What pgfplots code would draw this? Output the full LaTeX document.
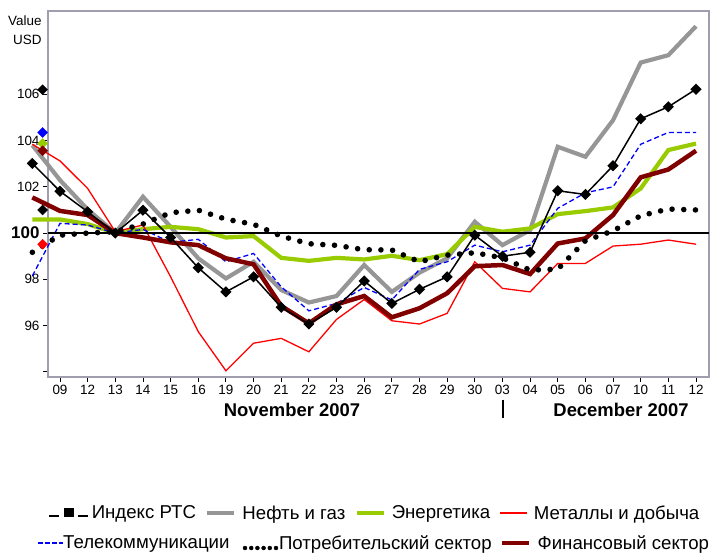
\documentclass[border=0pt]{standalone}
\usepackage{fontspec}
\setmainfont{Liberation Sans}
\usepackage{pgfplots}
\pgfplotsset{compat=1.18}
\definecolor{framegray}{RGB}{158,158,174}
\definecolor{oilgray}{RGB}{150,150,150}
\definecolor{energygreen}{RGB}{153,204,0}
\definecolor{finred}{RGB}{128,0,0}
\definecolor{baseline}{RGB}{32,0,0}
\begin{document}
\begin{tikzpicture}
\useasboundingbox (0,0) rectangle (712bp,553bp);
\begin{axis}[
  at={(48bp,176bp)}, anchor=south west,
  scale only axis, width=661bp, height=366bp,
  xmin=-0.434, xmax=23.47, ymin=93.78, ymax=109.6,
  clip=false,
  axis line style={draw=framegray, line width=1.4bp},
  xtick={0,...,23},
  xticklabels={09,12,13,14,15,16,19,20,21,22,23,26,27,28,29,30,03,04,05,06,07,10,11,12},
  ytick={94,96,98,100,102,104,106},
  yticklabels={,96,98,{\fontsize{17}{17}\selectfont\bfseries 100},102,104,106},
  tick align=outside, tick pos=left, major tick length=5bp,
  tick style={black, line width=0.9bp},
  ticklabel style={font=\fontsize{13.5}{14}\selectfont},
  legend columns=4,
  legend style={at={(0.4937,-0.3716)}, anchor=center, draw=none, fill=none,
     font=\fontsize{18.7}{20}\selectfont,
     nodes={inner sep=0.5bp},
     /tikz/every odd column/.append style={column sep=5.5bp},
     /tikz/every even column/.append style={column sep=9bp}},
]
% Oil & gas
\addplot[forget plot, oilgray, line width=4.2bp] coordinates {
(-1,103.8)(0,102.29)(1,101.02)(2,100.0)(3,101.57)(4,100.27)(5,98.91)(6,98.04)
(7,98.76)(8,97.54)(9,97.0)(10,97.28)(11,98.62)(12,97.46)(13,98.29)(14,98.91)
(15,100.49)(16,99.48)(17,100.13)(18,103.73)(19,103.3)(20,104.88)(21,107.37)(22,107.69)(23,108.94)};
% Energy
\addplot[forget plot, energygreen, line width=4.2bp] coordinates {
(-1,100.59)(0,100.59)(1,100.39)(2,100.01)(3,100.17)(4,100.27)(5,100.17)(6,99.81)
(7,99.87)(8,98.93)(9,98.8)(10,98.93)(11,98.86)(12,99.02)(13,98.83)(14,99.09)
(15,100.27)(16,100.06)(17,100.2)(18,100.82)(19,100.95)(20,101.11)(21,101.93)(22,103.59)(23,103.87)};
% Metals
\addplot[forget plot, red, line width=1.3bp] coordinates {
(-1,103.84)(0,103.12)(1,101.93)(2,100.06)(3,100.35)(4,98.11)(5,95.74)(6,94.05)
(7,95.24)(8,95.45)(9,94.87)(10,96.27)(11,97.13)(12,96.21)(13,96.07)(14,96.53)
(15,98.76)(16,97.61)(17,97.46)(18,98.69)(19,98.69)(20,99.44)(21,99.52)(22,99.7)(23,99.52)};
% Telecom
\addplot[forget plot, blue, line width=1.3bp, dash pattern=on 5bp off 3bp] coordinates {
(-1,98.15)(0,100.42)(1,100.35)(2,100.0)(3,100.16)(4,99.6)(5,99.73)(6,98.76)
(7,99.12)(8,97.68)(9,96.64)(10,96.96)(11,97.65)(12,97.11)(13,98.43)(14,98.76)
(15,99.48)(16,99.19)(17,99.48)(18,101.07)(19,101.74)(20,102.0)(21,103.84)(22,104.35)(23,104.35)};
% Financial
\addplot[forget plot, finred, line width=4.5bp] coordinates {
(-1,101.54)(0,100.96)(1,100.78)(2,100.0)(3,99.81)(4,99.6)(5,99.48)(6,98.91)
(7,98.65)(8,96.85)(9,96.1)(10,96.92)(11,97.28)(12,96.36)(13,96.75)(14,97.4)
(15,98.57)(16,98.62)(17,98.23)(18,99.55)(19,99.77)(20,100.78)(21,102.41)(22,102.75)(23,103.56)};
% Consumer
\addplot[forget plot, black, line width=5.6bp, line cap=round, dash pattern=on 0bp off 11.7bp] coordinates {
(-1,99.17)(0,99.91)(1,100.0)(2,100.06)(3,100.39)(4,100.88)(5,100.99)(6,100.6)
(7,100.38)(8,99.87)(9,99.54)(10,99.47)(11,99.28)(12,99.27)(13,98.76)(14,99.05)
(15,99.15)(16,98.93)(17,98.4)(18,98.44)(19,99.67)(20,100.1)(21,100.75)(22,101.04)(23,101.0)};
% RTS index
\addplot[forget plot, black, line width=1.5bp, mark=square*, mark size=3.2bp, mark options={solid, rotate=45}] coordinates {
(-1,103.01)(0,101.81)(1,100.92)(2,100.0)(3,100.99)(4,99.81)(5,98.5)(6,97.46)
(7,98.11)(8,96.79)(9,96.07)(10,96.79)(11,97.93)(12,96.96)(13,97.57)(14,98.11)
(15,99.91)(16,99.0)(17,99.17)(18,101.83)(19,101.67)(20,102.91)(21,104.94)(22,105.46)(23,106.22)};
% 100 baseline
\addplot[forget plot, baseline, line width=2.6bp] coordinates {(-0.434,100)(23.47,100)};
% final values marked at the axis
\addplot[forget plot, only marks, mark=square*, mark size=3.5bp, mark options={rotate=45}, black] coordinates {(-0.63,106.2)};
\addplot[forget plot, only marks, mark=square*, mark size=3.5bp, mark options={rotate=45}, blue] coordinates {(-0.63,104.35)};
\addplot[forget plot, only marks, mark=square*, mark size=3.5bp, mark options={rotate=45}, energygreen] coordinates {(-0.63,103.87)};
\addplot[forget plot, only marks, mark=square*, mark size=3.5bp, mark options={rotate=45}, finred] coordinates {(-0.63,103.56)};
\addplot[forget plot, only marks, mark=square*, mark size=3.5bp, mark options={rotate=45}, black] coordinates {(-0.63,101.0)};
\addplot[forget plot, only marks, mark=square*, mark size=3.5bp, mark options={rotate=45}, red] coordinates {(-0.63,99.52)};

\addlegendimage{legend image code/.code={
  \draw[overlay,black,line width=1.3bp] (0bp,-3bp)--(10bp,-3bp);
  \fill[overlay,black] (15bp,-3.5bp) rectangle (24bp,4.5bp);
  \draw[overlay,black,line width=1.3bp] (29bp,-3bp)--(39bp,-3bp);
  \path[draw=none,fill=none] (0bp,-4bp) rectangle (37bp,5bp);}}
\addlegendentry{Индекс РТС}
\addlegendimage{legend image code/.code={\draw[oilgray,line width=4bp] (0bp,0bp)--(27bp,0bp);}}
\addlegendentry{Нефть и газ}
\addlegendimage{legend image code/.code={\draw[energygreen,line width=4bp] (0bp,0bp)--(27bp,0bp);}}
\addlegendentry{Энергетика}
\addlegendimage{legend image code/.code={\draw[red,line width=1.3bp] (0bp,0bp)--(27bp,0bp);}}
\addlegendentry{Металлы и добыча}

\node[anchor=east, align=right, font=\fontsize{13.5}{19}\selectfont] at (axis cs:-0.54,108.79) {Value\\USD};
\node[font=\fontsize{18.5}{20}\selectfont\bfseries] at (axis cs:8.39,92.35) {November 2007};
\node[font=\fontsize{18.5}{20}\selectfont\bfseries] at (axis cs:20.29,92.35) {December 2007};
\draw[black, line width=1.6bp] (axis cs:16.02,92.8) -- (axis cs:16.02,92.02);
\end{axis}
\begin{axis}[
  at={(48bp,176bp)}, anchor=south west,
  scale only axis, width=661bp, height=366bp,
  xmin=0, xmax=1, ymin=0, ymax=1, hide axis,
  legend columns=3,
  legend style={at={(0.493,-0.4536)}, anchor=center, draw=none, fill=none,
     font=\fontsize{18.7}{20}\selectfont,
     nodes={inner sep=0.5bp},
     /tikz/every odd column/.append style={column sep=5.5bp},
     /tikz/every even column/.append style={column sep=8bp}},
]
\addlegendimage{legend image code/.code={
  \draw[overlay,blue,line width=1.2bp,dash pattern=on 4.5bp off 2.5bp] (0bp,0bp)--(25bp,0bp);
  \path[draw=none,fill=none] (0bp,-2bp) rectangle (19bp,2bp);}}
\addlegendentry{Телекоммуникации}
\addlegendimage{legend image code/.code={
  \foreach \i in {0,...,5} {\fill[overlay,black] (\i*6.2bp+7bp,-5bp) circle (2bp);}
  \path[draw=none,fill=none] (0bp,-7bp) rectangle (35bp,2bp);}}
\addlegendentry{Потребительский сектор}
\addlegendimage{legend image code/.code={\draw[finred,line width=4.5bp] (0bp,0bp)--(27bp,0bp);}}
\addlegendentry{Финансовый сектор}
\end{axis}
\end{tikzpicture}
\end{document}
